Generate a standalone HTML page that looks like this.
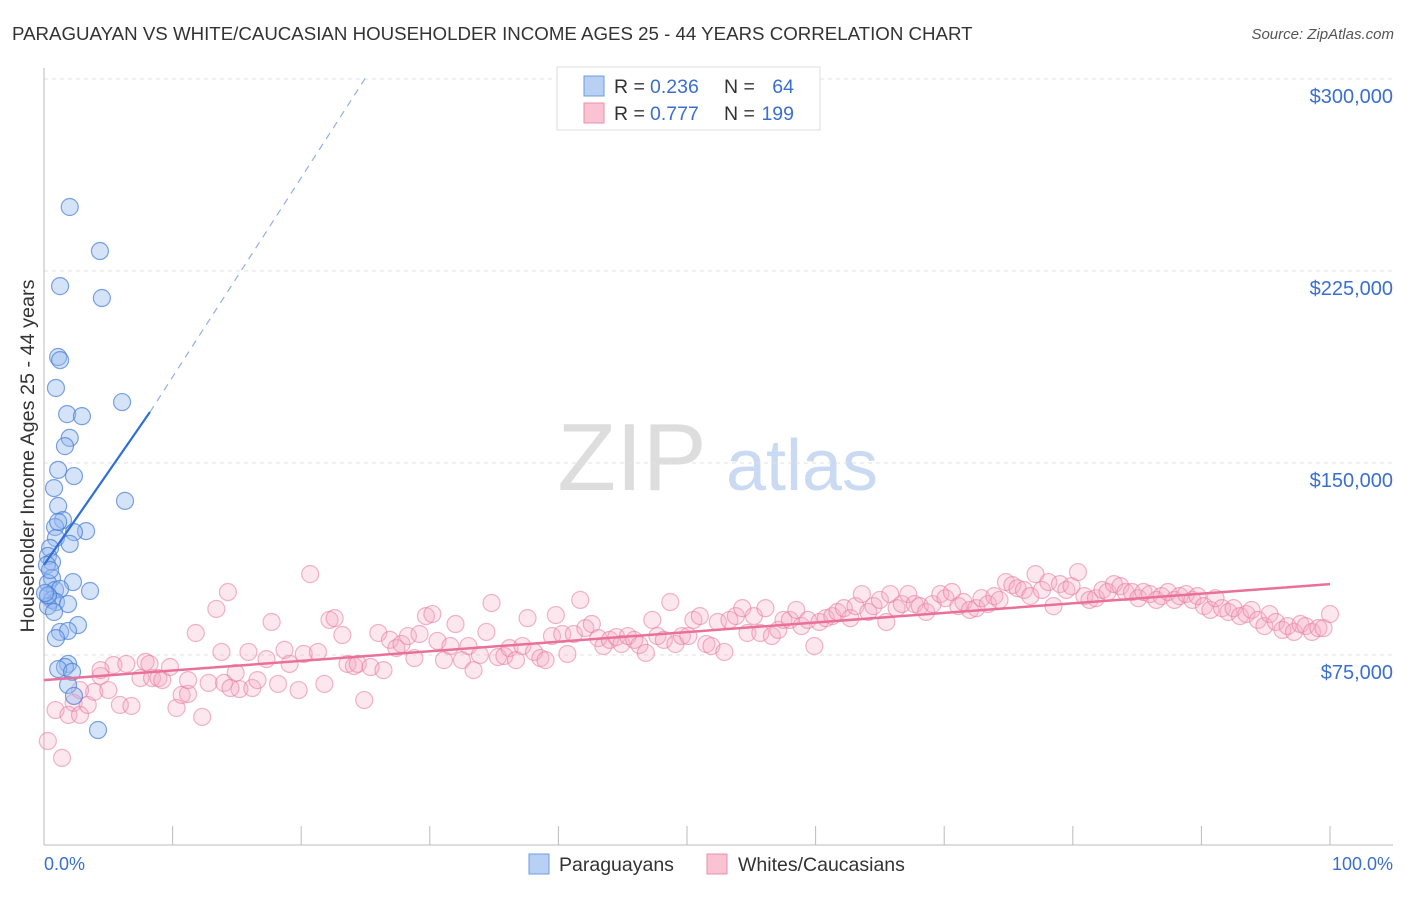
<!DOCTYPE html>
<html><head><meta charset="utf-8"><style>
body{margin:0;background:#fff;font-family:"Liberation Sans",sans-serif}
svg text{font-family:"Liberation Sans",sans-serif}
</style></head><body>
<svg id="c" width="1406" height="892">
<text x="12" y="40" font-size="18.7" fill="#333">PARAGUAYAN VS WHITE/CAUCASIAN HOUSEHOLDER INCOME AGES 25 - 44 YEARS CORRELATION CHART</text>
<text x="1394" y="39" font-size="15" fill="#555" font-style="italic" text-anchor="end">Source: ZipAtlas.com</text>
<g>
<text x="632" y="490" font-size="96" fill="#ddd" font-family="Liberation Serif" text-anchor="middle">ZIP</text>
<text x="802" y="490" font-size="72" fill="#c9daf2" text-anchor="middle">atlas</text>
</g>
<g id="grid"></g><g id="axes"></g><g id="pts"></g><g id="trend"></g>
<text transform="translate(34,456) rotate(-90)" font-size="19.8" fill="#333" text-anchor="middle">Householder Income Ages 25 - 44 years</text>
<text x="44" y="870" font-size="18" fill="#3a6fd0">0.0%</text>
<text x="1393" y="870" font-size="18" fill="#3a6fd0" text-anchor="end">100.0%</text>
<g>
<rect x="557" y="67" width="263" height="63" fill="#fff" stroke="#ddd"/>
<rect x="584" y="76" width="20" height="20" fill="#b7d0f3" stroke="#6f9de0"/>
<rect x="584" y="103" width="20" height="20" fill="#f9c3d3" stroke="#eb8fac"/>
<text x="614" y="93" font-size="19.5" fill="#333">R =</text><text x="650" y="93" font-size="19.5" fill="#3a6fd0">0.236</text>
<text x="724" y="93" font-size="19.5" fill="#333">N =</text><text x="794" y="93" font-size="19.5" fill="#3a6fd0" text-anchor="end">64</text>
<text x="614" y="120" font-size="19.5" fill="#333">R =</text><text x="650" y="120" font-size="19.5" fill="#3a6fd0">0.777</text>
<text x="724" y="120" font-size="19.5" fill="#333">N =</text><text x="794" y="120" font-size="19.5" fill="#3a6fd0" text-anchor="end">199</text>
</g>
<g>
<rect x="529" y="854" width="20" height="20" fill="#b7d0f3" stroke="#6f9de0"/>
<text x="559" y="871" font-size="19.5" fill="#333">Paraguayans</text>
<rect x="707" y="854" width="20" height="20" fill="#f9c3d3" stroke="#eb8fac"/>
<text x="738" y="871" font-size="19.5" fill="#333">Whites/Caucasians</text>
</g>
</svg>
<script>
const yTicks=[75000,150000,225000,300000];
const yTickLabels=["$75,000","$150,000","$225,000","$300,000"];
const xTicks=[0,10,20,30,40,50,60,70,80,90,100];
const blueX=[2.0,4.35,1.25,4.5,1.1,1.25,0.93,6.07,1.8,2.95,2.0,1.63,1.1,2.33,0.78,6.3,1.1,1.48,0.86,3.27,2.33,0.93,2.0,0.47,0.31,0.62,0.23,0.62,2.25,0.31,3.58,0.86,1.25,0.31,0.62,0.93,1.87,0.31,0.78,2.64,1.25,1.87,0.93,1.87,1.63,1.1,2.18,1.87,2.33,4.2,0.31,0.08,0.47,1.1];
const blueY=[250000,232800,219100,214450,191400,190200,179300,173800,169100,168300,159800,156600,147300,144900,140200,135200,133200,127700,125000,123400,123000,120700,118400,116800,113700,111300,110200,105100,103500,103100,100000,100400,100800,98000,96500,95700,94900,94100,91800,86700,84000,84400,81600,71500,70300,69500,68400,63300,59000,45700,98400,99200,108200,127000];
const pinkX=[0.3,1.4,0.9,1.9,2.3,2.8,3.4,3.9,4.4,5.0,5.4,5.9,6.4,6.8,7.5,7.9,8.4,8.9,9.2,9.8,10.3,10.7,11.2,11.8,12.3,12.8,13.4,13.8,14.3,14.9,15.2,15.9,16.2,16.6,17.3,17.7,18.2,18.7,19.1,19.8,20.2,20.7,21.3,21.8,22.2,22.6,23.2,23.6,24.1,24.4,24.9,25.4,26.0,26.4,26.9,27.4,27.8,28.3,28.8,29.2,29.7,30.2,30.6,31.1,31.6,32.0,32.5,33.0,33.4,33.9,34.4,34.8,35.3,35.8,36.2,36.7,37.2,37.6,38.1,38.6,39.0,39.5,39.8,40.3,40.7,41.2,41.7,42.1,42.6,43.1,43.5,44.0,44.5,44.9,45.4,45.9,46.3,46.8,47.3,47.7,48.2,48.7,49.1,49.6,50.1,50.5,51.0,51.5,51.9,52.4,52.9,53.3,53.8,54.3,54.7,55.2,55.7,56.1,56.6,57.1,57.5,58.0,58.5,58.9,59.4,59.9,60.3,60.8,61.3,61.7,62.2,62.7,63.1,63.6,64.1,64.5,65.0,65.5,65.8,66.3,66.7,67.2,67.7,68.1,68.6,69.1,69.7,70.1,70.6,71.1,71.5,72.0,72.5,72.9,73.4,73.9,74.3,74.8,75.3,75.7,76.2,76.7,77.1,77.6,78.1,78.5,79.0,79.5,79.9,80.4,80.9,81.3,81.8,82.3,82.7,83.2,83.7,84.1,84.6,85.1,85.5,86.0,86.5,86.9,87.4,87.9,88.3,88.8,89.3,89.7,90.2,90.7,91.1,91.6,92.1,92.5,93.0,93.5,93.9,94.4,94.9,95.3,95.8,96.3,96.7,97.2,97.7,98.1,98.6,99.1,99.5,100.0,14.0,14.5,11.2,8.2,4.4,2.8];
const pinkY=[41.4,34.8,53.5,51.6,56.3,51.6,55.5,60.6,66.8,61.3,71.1,55.5,71.5,55.1,66.0,72.3,66.0,66.0,65.2,70.3,54.3,59.4,59.8,83.6,50.8,64.1,93.0,76.2,99.6,68.0,61.7,76.2,62.1,65.2,73.4,87.9,63.7,77.0,71.5,61.3,75.4,106.6,76.2,63.7,88.7,89.4,82.8,71.5,70.7,71.5,57.4,70.3,83.6,69.1,80.9,77.7,79.3,82.4,73.8,83.2,90.2,91.0,80.5,73.0,78.5,87.1,73.0,78.5,69.1,75.0,84.0,95.3,74.2,74.6,77.7,73.0,78.5,89.4,76.2,73.8,73.0,82.4,90.6,83.2,75.4,83.2,96.5,85.5,87.1,81.6,78.5,80.9,82.0,79.3,82.4,80.9,78.9,75.8,88.7,82.4,80.9,95.7,79.3,82.4,82.4,88.7,90.2,79.3,78.5,87.9,76.2,88.7,90.2,93.3,83.6,90.2,83.6,93.3,82.4,84.8,88.7,88.7,92.6,86.3,88.7,78.5,87.9,89.4,90.2,91.8,93.3,89.4,94.1,98.8,91.8,94.1,96.5,87.9,98.8,93.3,94.9,98.8,94.9,94.1,91.8,94.9,98.8,97.2,99.6,94.1,95.7,92.6,93.3,97.2,94.9,98.0,96.5,103.5,102.3,101.1,100.4,98.0,106.6,100.4,103.5,94.1,102.7,100.4,101.9,107.4,98.0,96.5,97.2,100.4,99.6,102.7,101.9,99.6,99.6,97.2,99.6,98.8,96.5,98.0,99.6,96.5,98.0,98.8,96.5,98.0,94.1,92.6,97.2,93.3,91.8,93.3,90.2,91.0,92.6,88.7,86.3,91.0,87.9,84.8,86.3,84.0,87.1,86.3,84.0,85.5,85.5,91.0,64.1,62.1,65.2,71.5,69.1,61.3];
const blueTrendX=[0,8.24,25];
const blueTrendY=[110200,169900,300400];
const pinkTrendX=[0,100];
const pinkTrendY=[65200,102700];
const NS="http://www.w3.org/2000/svg";
const X=p=>44+p*12.86;
const Y=v=>655-(v-75000)*192/75000;
function mk(t,a,parent){const e=document.createElementNS(NS,t);for(const k in a)e.setAttribute(k,a[k]);document.getElementById(parent).appendChild(e);return e;}
yTicks.forEach((v,i)=>{
 const l=mk('line',{x1:44,x2:1393,y1:Y(v),y2:Y(v),stroke:'#e2e2e2','stroke-dasharray':'4,4'},'grid');
 
 
 const t=mk('text',{x:1393,y:Y(v)+24,'font-size':20,fill:'#3a6fd0','text-anchor':'end'},'grid');
 t.textContent=yTickLabels[i];
 
 
});
const ax=mk('line',{x1:44,x2:44,y1:68,y2:845,stroke:'#bbb'},'axes');


const bx=mk('line',{x1:44,x2:1393,y1:845,y2:845,stroke:'#bbb'},'axes');


xTicks.forEach(p=>{const t=mk('line',{x1:X(p),x2:X(p),y1:826,y2:845,stroke:'#bbb'},'axes');
 
 });
pinkX.forEach((p,i)=>{const c=mk('circle',{cx:X(p),cy:Y(pinkY[i]*1000),r:8.5,fill:'rgba(246,170,195,0.28)',stroke:'rgba(232,120,158,0.55)','stroke-width':1.2},'pts');
 
 });
blueX.forEach((p,i)=>{const c=mk('circle',{cx:X(p),cy:Y(blueY[i]),r:8.5,fill:'rgba(150,185,240,0.4)',stroke:'rgba(70,125,215,0.7)','stroke-width':1.2},'pts');
 
 });
const b1=mk('line',{x1:X(blueTrendX[0]),y1:Y(blueTrendY[0]),x2:X(blueTrendX[1]),y2:Y(blueTrendY[1]),stroke:'#2f6fd6','stroke-width':2.2},'trend');


const b2=mk('line',{x1:X(blueTrendX[1]),y1:Y(blueTrendY[1]),x2:X(blueTrendX[2]),y2:Y(blueTrendY[2]),stroke:'#8fb0e6','stroke-width':1.2,'stroke-dasharray':'7,6'},'trend');


const p1=mk('line',{x1:X(pinkTrendX[0]),y1:Y(pinkTrendY[0]),x2:X(pinkTrendX[1]),y2:Y(pinkTrendY[1]),stroke:'#e9709a','stroke-width':2.5},'trend');


</script>
</body></html>
